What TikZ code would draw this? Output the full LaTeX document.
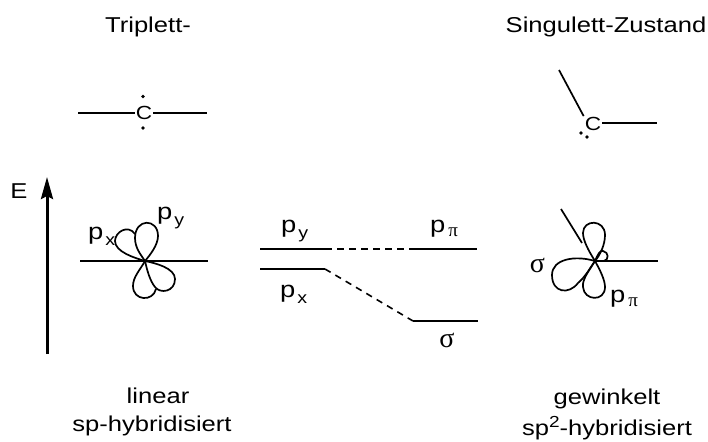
\documentclass[tikz,border=0pt]{standalone}
\usepackage{fontspec}
\usetikzlibrary{arrows.meta}
\setmainfont[FakeStretch=1.19]{Liberation Sans}
\newfontfamily\symf{Liberation Serif}
\tikzset{
  lbl/.style={inner sep=0pt,anchor=base,font=\fontsize{21.5}{24}\selectfont},
  plbl/.style={inner sep=0pt,anchor=base west,font=\fontsize{23}{24}\selectfont},
  atom/.style={inner sep=1pt,font=\fontsize{19}{19}\selectfont},
  sig/.style={inner sep=0pt,anchor=base,font=\fontsize{28}{28}\selectfont\symf},
  orb/.style={line width=1.7pt,line join=round},
  lvl/.style={line width=1.7pt},
  dsh/.style={line width=1.6pt,dash pattern=on 6.5pt off 5.5pt},
  dotc/.style={circle,fill=black,inner sep=0pt,minimum size=3.8pt},
}
\newcommand{\subs}[1]{\kern2pt\raisebox{-6pt}{\fontsize{16.5}{16}\selectfont #1}}
\newcommand{\subg}[1]{\kern3pt\raisebox{-4.5pt}{\fontsize{19}{19}\selectfont\symf #1}}
\begin{document}
\begin{tikzpicture}[x=1pt,y=-1pt]
\useasboundingbox (0,0) rectangle (708,441);
% headings
\node[lbl] (t1) at (148,33) {Triplett-};
\node[lbl] (t2) at (606,33) {Singulett-Zustand};
\node[lbl] (t3) at (158,403) {linear};
\node[lbl] (t4) at (152,431) {sp-hybridisiert};
\node[lbl] (t5) at (607,404) {gewinkelt};
\node[lbl] (t6) at (607,435.5) {sp\raisebox{8pt}{\fontsize{16}{16}\selectfont 2}-hybridisiert};
% top left carbene
\node[atom] (c1) at (144,113) {C};
\coordinate (c1l) at (78,113); \coordinate (c1r) at (207,113);
\draw[lvl] (c1l) -- (c1.west);
\draw[lvl] (c1.east) -- (c1r);
\node[dotc] (d1) at (143,96.5) {}; \node[dotc] (d2) at (143,128) {};
% top right carbene
\node[atom] (c2) at (593,124) {C};
\coordinate (c2a) at (559,70); \coordinate (c2b) at (657,123);
\draw[lvl] (c2a) -- (c2.north west);
\draw[lvl] (c2.east |- c2b) -- (c2b);
\node[dotc] (d3) at (581,133) {}; \node[dotc] (d4) at (587,137) {};
% energy axis
\node[lbl] (e) at (19,198) {E};
\coordinate (ea) at (47,354); \coordinate (eb) at (47,177);
\draw[line width=3pt,-{Stealth[length=22pt,width=12pt,inset=3pt]}] (ea) -- (eb);
% triplet orbitals
\coordinate (oa) at (145,261);
\coordinate (ob) at (80,261); \coordinate (oc) at (208,261);
\draw[lvl] (ob) -- (oc);
\draw[orb] (oa) .. controls (141,255) and (135,248) .. (135,238)
  .. controls (135,218) and (158,218) .. (158,236)
  .. controls (158,245) and (150,255) .. (oa);
\draw[orb] (oa) .. controls (140,270) and (133,277) .. (133,286)
  .. controls (133,301) and (153,302) .. (156,289);
\draw[orb] (oa) .. controls (155,263) and (175,268) .. (175,279)
  .. controls (175,292) and (160,294) .. (155,287)
  .. controls (150,281) and (147,270) .. (oa);
\draw[orb] (oa) .. controls (135,258) and (115,252) .. (115,241)
  .. controls (115,232) and (128,224) .. (135,234);
% levels
\coordinate (p1) at (260,249); \coordinate (p2) at (325,249);
\coordinate (p3) at (412,249); \coordinate (p4) at (477,249);
\coordinate (q1) at (260,269); \coordinate (q2) at (325,269);
\coordinate (q3) at (413,321); \coordinate (q4) at (478,321);
\draw[lvl] (p1) -- (p2); \draw[lvl] (p3) -- (p4);
\draw[lvl] (q1) -- (q2); \draw[lvl] (q3) -- (q4);
\draw[dsh] (p2) -- (p3); \draw[dsh] (q2) -- (q3);
% singlet orbitals
\coordinate (sa) at (595,261);
\coordinate (sb) at (658,261); \coordinate (sc) at (561,209); \coordinate (sd) at (582,243);
\draw[lvl] (sa) -- (sb);
\draw[lvl] (sc) -- (sd);
\draw[orb] (sa) .. controls (588,250) and (583,240) .. (583,233)
  .. controls (583,219) and (605,219) .. (605,235)
  .. controls (605,245) and (600,255) .. (sa);
\draw[orb] (sa) .. controls (588,272) and (582,280) .. (583,287)
  .. controls (584,301) and (605,302) .. (605,287)
  .. controls (605,280) and (600,270) .. (sa);
\draw[orb] (sa) .. controls (575,255) and (552,259) .. (552,275)
  .. controls (552,293) and (569,295) .. (578,283)
  .. controls (586,276) and (590,268) .. (sa);
\draw[orb] (sa) .. controls (598,254) and (600,250) .. (603,251)
  .. controls (609,252) and (609,260) .. (604,261);
% labels
\node[plbl] (l1) at (88,239) {p\subs{x}};
\node[plbl] (l2) at (157,219) {p\subs{y}};
\node[plbl] (l3) at (281,232) {p\subs{y}};
\node[plbl] (l4) at (280,297) {p\subs{x}};
\node[plbl] (l5) at (430,232) {p\subg{π}};
\node[sig] (l6) at (447,347) {σ};
\node[sig] (l7) at (537.5,272) {σ};
\node[plbl] (l8) at (610,302) {p\subg{π}};
\end{tikzpicture}
\end{document}
